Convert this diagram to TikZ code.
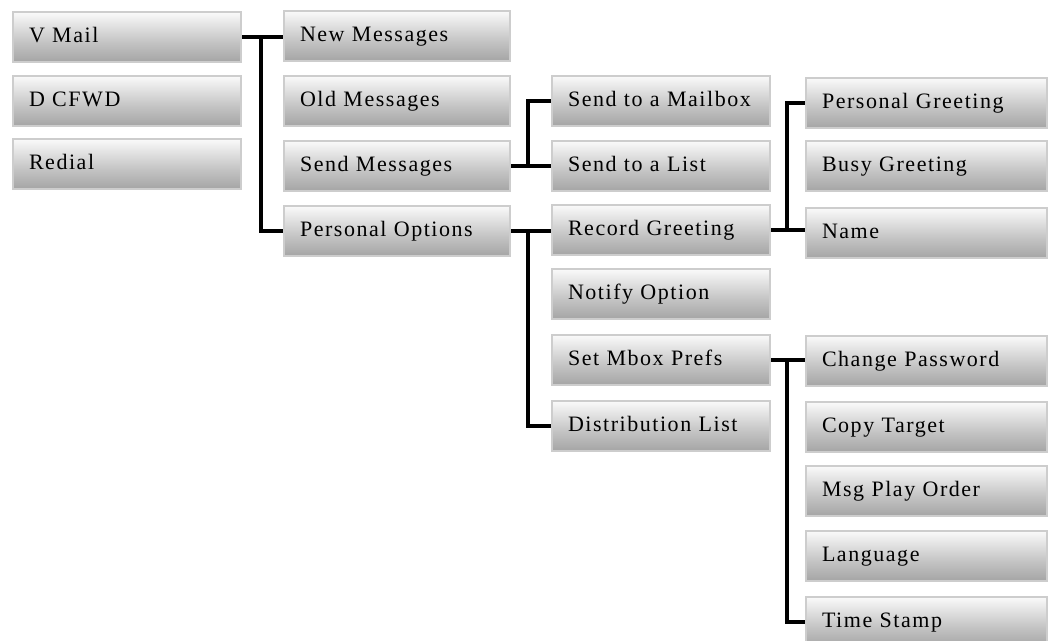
\documentclass[tikz,border=0pt]{standalone}
\usepackage{fontspec}
\setmainfont{Liberation Serif}[LetterSpace=7]
\definecolor{sh0}{HTML}{848484}
\definecolor{sh1}{HTML}{959595}
\definecolor{sh2}{HTML}{C4C4C4}
\definecolor{sh3}{HTML}{FAFAFA}
\definecolor{sh4}{HTML}{F6F6F6}
\definecolor{sh5}{HTML}{E2E2E2}
\definecolor{frame}{HTML}{CDCDCD}
\pgfdeclareverticalshading{btnshade}{100bp}{color(0bp)=(sh0); color(15bp)=(sh1); color(45bp)=(sh2); color(75bp)=(sh3); color(92bp)=(sh4); color(100bp)=(sh5)}
\tikzset{
  btn/.style={rectangle, anchor=north west, draw=frame, line width=2pt, shading=btnshade,
    minimum height=50pt, inner xsep=16pt, inner ysep=0pt, align=left,
    text height=15pt, text depth=4pt, font=\fontsize{22}{25}\selectfont},
  colA/.style={btn, text width=196pt},
  colB/.style={btn, text width=194pt},
  colC/.style={btn, text width=186pt},
  colD/.style={btn, text width=209pt},
  conn/.style={line width=3.5pt, black}
}
\begin{document}
\begin{tikzpicture}[x=1pt,y=-1pt]
\useasboundingbox (0,0) rectangle (1048,640);
% column 1
\node[colA] (vmail) at (12,11) {V Mail};
\node[colA] (dcfwd) at (12,75) {D CFWD};
\node[colA] (redial) at (12,138) {Redial};
% column 2
\node[colB] (newm) at (283,10) {New Messages};
\node[colB] (oldm) at (283,75) {Old Messages};
\node[colB] (sendm) at (283,140) {Send Messages};
\node[colB] (popt) at (283,205) {Personal Options};
% column 3
\node[colC] (mbox) at (551,75) {Send to a Mailbox};
\node[colC] (list) at (551,140) {Send to a List};
\node[colC] (rec) at (551,204) {Record Greeting};
\node[colC] (notify) at (551,268) {Notify Option};
\node[colC] (setm) at (551,334) {Set Mbox Prefs};
\node[colC] (dist) at (551,400) {Distribution List};
% column 4
\node[colD] (pgreet) at (805,77) {Personal Greeting};
\node[colD] (busy) at (805,140) {Busy Greeting};
\node[colD] (name) at (805,207) {Name};
\node[colD] (chpw) at (805,335) {Change Password};
\node[colD] (copy) at (805,401) {Copy Target};
\node[colD] (msgp) at (805,465) {Msg Play Order};
\node[colD] (lang) at (805,530) {Language};
\node[colD] (tstamp) at (805,596) {Time Stamp};
% connectors
\coordinate (j1) at (261,0);
\coordinate (j2) at (528,0);
\coordinate (j3) at (787,0);
\draw[conn] (vmail.east) -- (vmail.east -| newm.west);
\draw[conn] (vmail.east -| j1) |- (popt.west);
\draw[conn] (sendm.east) -- (sendm.east -| list.west);
\draw[conn] (sendm.east -| j2) |- (mbox.west);
\draw[conn] (popt.east) -- (popt.east -| rec.west);
\draw[conn] (popt.east -| j2) |- (dist.west);
\draw[conn] (rec.east) -- (rec.east -| name.west);
\draw[conn] (rec.east -| j3) |- (pgreet.west);
\draw[conn] (setm.east) -- (setm.east -| chpw.west);
\draw[conn] (setm.east -| j3) |- (tstamp.west);
\end{tikzpicture}
\end{document}
